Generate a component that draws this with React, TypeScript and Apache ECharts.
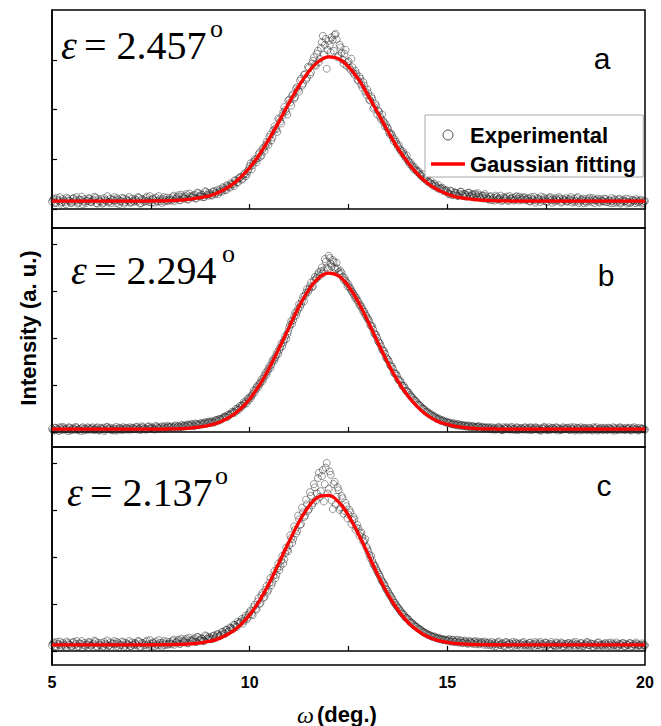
import React, { useEffect, useRef } from 'react';
import * as echarts from 'echarts';

// ---------- data ----------
const OMEGA_MIN = 5;
const OMEGA_MAX = 20;
const EXP_STEP = 0.05;
const EXP_OFFSET_2 = 0.025;
const FIT_STEP = 0.25;
const X_LABELS = [5, 10, 15, 20];
const EPSILON = ['2.457', '2.294', '2.137'];
const LETTERS = ['a', 'b', 'c'];
const Y_MIN = [-0.38, -0.32, -0.3];
const Y_MAX = [4.0, 4.34, 4.34];
const Y_TICKS = [[0, 1, 2, 3], [0, 1, 2, 3, 4], [0, 1, 2, 3, 4]];

// experimental points, omega = 5.00, 5.05, ... 20.00
const EXP_A = [
  0.15,0.21,0.12,0.18,0.24,0.14,0.17,0.10,0.20,0.16,0.13,0.22,0.18,0.11,0.19,0.25,0.15,0.12,0.17,0.21,
  0.14,0.19,0.23,0.11,0.16,0.20,0.13,0.18,0.26,0.15,0.12,0.19,0.17,0.22,0.10,0.16,0.21,0.14,0.18,0.24,
  0.13,0.17,0.20,0.15,0.23,0.12,0.19,0.16,0.25,0.14,0.18,0.21,0.13,0.17,0.26,0.16,0.20,0.15,0.23,0.18,
  0.19,0.24,0.16,0.22,0.28,0.18,0.25,0.21,0.30,0.19,0.26,0.23,0.29,0.21,0.32,0.25,0.28,0.24,0.34,0.27,
  0.31,0.27,0.36,0.33,0.30,0.40,0.35,0.42,0.38,0.47,0.43,0.50,0.46,0.57,0.53,0.63,0.59,0.69,0.66,0.76,
  0.86,0.80,0.95,0.99,1.02,1.14,1.08,1.23,1.27,1.33,1.45,1.38,1.58,1.62,1.55,1.80,1.72,1.95,1.99,1.90,
  2.20,2.08,2.31,2.25,2.45,2.36,2.62,2.52,2.71,2.64,2.84,2.75,2.98,2.90,3.12,2.95,3.24,3.48,3.30,2.82,
  3.38,3.15,3.40,3.50,3.41,3.08,3.25,3.00,3.12,2.88,2.97,2.80,2.85,2.70,2.72,2.58,2.62,2.44,2.48,2.30,
  2.33,2.18,2.22,2.05,2.08,1.98,1.86,1.90,1.74,1.70,1.62,1.50,1.49,1.36,1.35,1.25,1.20,1.13,1.10,1.02,
  0.98,0.90,0.88,0.80,0.79,0.74,0.70,0.66,0.62,0.60,0.55,0.53,0.50,0.46,0.47,0.42,0.40,0.41,0.36,0.37,
  0.34,0.30,0.36,0.29,0.33,0.27,0.31,0.35,0.26,0.30,0.28,0.33,0.25,0.29,0.31,0.24,0.28,0.22,0.27,0.30,
  0.23,0.19,0.26,0.21,0.17,0.24,0.20,0.27,0.18,0.22,0.25,0.16,0.21,0.23,0.19,0.26,0.17,0.22,0.20,0.24,
  0.18,0.22,0.15,0.20,0.25,0.17,0.21,0.14,0.19,0.23,0.16,0.20,0.24,0.13,0.18,0.22,0.17,0.21,0.15,0.19,
  0.22,0.16,0.19,0.13,0.21,0.17,0.24,0.15,0.18,0.12,0.20,0.16,0.23,0.14,0.19,0.17,0.21,0.13,0.18,0.15,
  0.20,0.14,0.17,0.22,0.12,0.18,0.15,0.21,0.13,0.19,0.16,0.11,0.20,0.14,0.18,0.12,0.17,0.15,0.19,0.13,
  0.16,
];
// experimental points, omega = 5.025, 5.075, ... 19.975
const EXP_A2 = [
  0.19,0.13,0.22,0.16,0.11,0.20,0.14,0.23,0.17,0.12,0.21,0.15,0.24,0.13,0.18,0.10,0.20,0.16,0.22,0.14,
  0.17,0.25,0.12,0.20,0.15,0.11,0.22,0.16,0.13,0.21,0.18,0.24,0.12,0.19,0.15,0.23,0.11,0.20,0.16,0.13,
  0.21,0.15,0.18,0.24,0.11,0.20,0.14,0.22,0.17,0.26,0.13,0.19,0.23,0.15,0.20,0.12,0.24,0.18,0.16,0.22,
  0.17,0.27,0.20,0.25,0.18,0.29,0.22,0.26,0.20,0.31,0.24,0.27,0.22,0.33,0.26,0.30,0.24,0.36,0.29,0.33,
  0.28,0.35,0.30,0.38,0.34,0.37,0.44,0.39,0.48,0.45,0.52,0.49,0.58,0.54,0.62,0.65,0.61,0.72,0.70,0.80,
  0.92,0.88,1.00,0.94,1.10,1.05,1.20,1.17,1.35,1.29,1.50,1.44,1.66,1.60,1.82,1.76,1.88,2.05,1.96,2.18,
  2.14,2.28,2.22,2.42,2.40,2.58,2.48,2.70,2.60,2.86,2.70,2.92,3.05,2.88,3.18,3.02,3.35,3.10,3.42,3.20,
  3.30,3.45,3.18,3.52,3.05,3.30,3.14,2.92,3.20,2.95,2.84,3.02,2.74,2.78,2.60,2.66,2.50,2.55,2.36,2.40,
  2.20,2.26,2.02,2.12,1.90,1.95,1.80,1.78,1.66,1.64,1.54,1.52,1.42,1.40,1.30,1.28,1.18,1.16,1.06,1.08,
  0.95,0.93,0.85,0.84,0.77,0.76,0.68,0.70,0.61,0.63,0.56,0.57,0.50,0.51,0.45,0.48,0.42,0.43,0.39,0.38,
  0.31,0.37,0.28,0.34,0.32,0.26,0.35,0.29,0.31,0.25,0.33,0.27,0.30,0.23,0.28,0.32,0.24,0.27,0.21,0.26,
  0.20,0.25,0.18,0.23,0.27,0.19,0.22,0.16,0.24,0.21,0.18,0.26,0.20,0.17,0.24,0.21,0.25,0.18,0.23,0.19,
  0.21,0.16,0.24,0.18,0.13,0.22,0.19,0.25,0.16,0.20,0.14,0.23,0.18,0.21,0.15,0.19,0.24,0.13,0.20,0.17,
  0.15,0.20,0.24,0.17,0.14,0.22,0.12,0.19,0.21,0.16,0.13,0.20,0.17,0.22,0.12,0.18,0.15,0.20,0.16,0.21,
  0.14,0.18,0.12,0.16,0.20,0.13,0.19,0.11,0.17,0.15,0.21,0.14,0.12,0.18,0.16,0.20,0.13,0.17,0.11,0.16,
];

const EXP_B = [
  0.07,0.03,0.09,0.05,0.10,0.04,0.08,0.06,0.02,0.09,0.05,0.07,0.11,0.04,0.06,0.08,0.03,0.07,0.10,0.05,
  0.08,0.04,0.06,0.10,0.03,0.07,0.09,0.05,0.11,0.06,0.04,0.08,0.07,0.03,0.09,0.06,0.10,0.05,0.08,0.07,
  0.05,0.09,0.06,0.11,0.07,0.04,0.10,0.08,0.06,0.12,0.07,0.09,0.05,0.11,0.08,0.10,0.07,0.12,0.09,0.11,
  0.10,0.08,0.12,0.09,0.13,0.11,0.10,0.14,0.12,0.15,0.13,0.16,0.12,0.17,0.15,0.18,0.16,0.19,0.17,0.21,
  0.19,0.23,0.20,0.26,0.23,0.28,0.28,0.32,0.32,0.37,0.37,0.43,0.43,0.49,0.50,0.55,0.57,0.63,0.65,0.71,
  0.74,0.77,0.88,0.90,0.99,1.02,1.12,1.14,1.26,1.29,1.40,1.43,1.55,1.58,1.70,1.75,1.88,1.90,2.04,2.08,
  2.22,2.36,2.38,2.54,2.56,2.72,2.72,2.88,2.90,3.04,3.03,3.18,3.10,3.30,3.28,3.40,3.42,3.38,3.68,3.50,
  3.75,3.58,3.66,3.50,3.60,3.40,3.42,3.30,3.28,3.18,3.14,3.05,2.98,2.90,2.86,2.77,2.70,2.62,2.56,2.47,
  2.40,2.28,2.25,2.10,2.06,1.93,1.88,1.75,1.72,1.58,1.54,1.42,1.39,1.26,1.24,1.12,1.10,0.99,0.98,0.88,
  0.86,0.79,0.75,0.69,0.66,0.59,0.57,0.51,0.49,0.43,0.42,0.37,0.36,0.32,0.31,0.27,0.27,0.23,0.24,0.20,
  0.20,0.19,0.17,0.18,0.15,0.16,0.14,0.15,0.12,0.14,0.11,0.13,0.10,0.12,0.09,0.11,0.12,0.08,0.10,0.09,
  0.07,0.10,0.08,0.05,0.09,0.06,0.11,0.07,0.04,0.08,0.10,0.06,0.09,0.05,0.07,0.10,0.04,0.08,0.06,0.09,
  0.05,0.08,0.10,0.04,0.07,0.09,0.06,0.03,0.08,0.11,0.05,0.07,0.04,0.09,0.06,0.10,0.03,0.07,0.05,0.08,
  0.06,0.09,0.04,0.07,0.10,0.05,0.08,0.03,0.06,0.09,0.07,0.04,0.08,0.05,0.10,0.06,0.03,0.07,0.09,0.05,
  0.07,0.04,0.08,0.06,0.10,0.03,0.07,0.09,0.05,0.08,0.04,0.06,0.09,0.03,0.07,0.05,0.08,0.04,0.06,0.07,
  0.05,
];
const EXP_B2 = [
  0.04,0.09,0.06,0.02,0.08,0.11,0.05,0.07,0.10,0.03,0.08,0.05,0.09,0.06,0.02,0.10,0.07,0.04,0.08,0.06,
  0.10,0.05,0.08,0.04,0.09,0.06,0.02,0.10,0.07,0.09,0.05,0.03,0.11,0.06,0.08,0.04,0.07,0.09,0.05,0.10,
  0.08,0.06,0.10,0.05,0.09,0.12,0.07,0.05,0.11,0.08,0.10,0.06,0.13,0.09,0.07,0.12,0.10,0.08,0.13,0.10,
  0.12,0.10,0.14,0.11,0.10,0.15,0.13,0.12,0.16,0.14,0.17,0.13,0.18,0.16,0.15,0.19,0.17,0.21,0.19,0.22,
  0.21,0.20,0.24,0.25,0.27,0.26,0.30,0.33,0.31,0.35,0.39,0.40,0.41,0.46,0.47,0.52,0.56,0.60,0.61,0.68,
  0.72,0.81,0.84,0.95,0.96,1.06,1.08,1.20,1.22,1.34,1.36,1.50,1.52,1.64,1.66,1.80,1.82,1.96,1.98,2.14,
  2.28,2.30,2.46,2.48,2.62,2.66,2.80,2.78,2.96,2.98,3.10,3.08,3.22,3.25,3.35,3.32,3.50,3.44,3.62,3.46,
  3.70,3.52,3.62,3.46,3.48,3.36,3.38,3.24,3.22,3.10,3.08,3.00,2.94,2.84,2.80,2.70,2.66,2.56,2.50,2.42,
  2.36,2.25,2.18,2.08,2.00,1.90,1.82,1.73,1.66,1.56,1.50,1.40,1.34,1.24,1.20,1.10,1.06,0.97,0.94,0.86,
  0.83,0.76,0.72,0.67,0.63,0.58,0.55,0.50,0.47,0.44,0.40,0.39,0.34,0.34,0.29,0.29,0.25,0.25,0.22,0.22,
  0.19,0.20,0.16,0.18,0.14,0.17,0.13,0.15,0.13,0.12,0.14,0.10,0.13,0.11,0.10,0.12,0.09,0.11,0.08,0.10,
  0.09,0.06,0.10,0.07,0.05,0.09,0.08,0.04,0.10,0.06,0.08,0.05,0.11,0.07,0.04,0.09,0.06,0.08,0.05,0.10,
  0.07,0.04,0.09,0.06,0.10,0.05,0.08,0.03,0.07,0.09,0.04,0.10,0.06,0.08,0.05,0.09,0.07,0.04,0.10,0.06,
  0.08,0.05,0.10,0.06,0.03,0.09,0.07,0.10,0.04,0.08,0.05,0.09,0.06,0.03,0.08,0.10,0.05,0.07,0.04,0.09,
  0.05,0.09,0.06,0.03,0.08,0.07,0.04,0.10,0.06,0.05,0.09,0.07,0.04,0.08,0.10,0.06,0.03,0.09,0.07,0.05,
];

const EXP_C = [
  0.12,0.18,0.09,0.15,0.20,0.11,0.14,0.07,0.17,0.13,0.10,0.19,0.15,0.08,0.16,0.21,0.12,0.10,0.14,0.18,
  0.11,0.16,0.20,0.09,0.13,0.17,0.10,0.15,0.22,0.12,0.09,0.16,0.14,0.19,0.08,0.13,0.18,0.11,0.15,0.21,
  0.10,0.14,0.17,0.12,0.20,0.09,0.16,0.13,0.22,0.11,0.15,0.18,0.10,0.14,0.23,0.13,0.17,0.12,0.20,0.15,
  0.16,0.21,0.13,0.19,0.24,0.15,0.22,0.18,0.26,0.16,0.23,0.20,0.27,0.19,0.29,0.22,0.26,0.21,0.31,0.25,
  0.28,0.25,0.33,0.30,0.36,0.32,0.40,0.37,0.45,0.41,0.50,0.47,0.56,0.52,0.62,0.59,0.68,0.64,0.75,0.71,
  0.82,0.78,0.93,0.90,1.05,1.00,1.18,1.13,1.30,1.26,1.45,1.40,1.60,1.55,1.75,1.72,1.92,1.86,2.08,2.15,
  2.25,2.40,2.38,2.58,2.55,2.80,2.70,2.95,2.88,3.12,3.02,3.30,3.15,3.48,3.35,3.79,3.40,3.85,3.55,4.00,
  3.45,3.75,3.02,3.60,3.28,3.42,3.05,3.25,2.98,3.08,2.90,2.95,2.78,2.80,2.62,2.60,2.50,2.42,2.34,2.22,
  2.12,1.98,1.92,1.82,1.74,1.66,1.58,1.48,1.42,1.32,1.26,1.18,1.12,1.03,0.98,0.92,0.86,0.80,0.77,0.70,
  0.68,0.62,0.60,0.55,0.52,0.48,0.46,0.42,0.40,0.37,0.35,0.33,0.31,0.30,0.28,0.27,0.25,0.26,0.23,0.24,
  0.22,0.25,0.20,0.23,0.19,0.24,0.18,0.21,0.17,0.22,0.16,0.20,0.18,0.15,0.21,0.17,0.14,0.19,0.16,0.20,
  0.13,0.18,0.15,0.11,0.17,0.14,0.20,0.12,0.16,0.10,0.18,0.13,0.15,0.19,0.11,0.16,0.14,0.09,0.17,0.13,
  0.15,0.11,0.18,0.13,0.09,0.16,0.12,0.19,0.14,0.10,0.17,0.13,0.08,0.15,0.12,0.18,0.11,0.14,0.16,0.10,
  0.14,0.17,0.10,0.15,0.12,0.19,0.13,0.09,0.16,0.11,0.14,0.18,0.12,0.15,0.08,0.13,0.17,0.11,0.14,0.12,
  0.16,0.10,0.13,0.18,0.11,0.14,0.09,0.15,0.12,0.17,0.10,0.13,0.16,0.08,0.14,0.11,0.15,0.12,0.09,0.13,
  0.12,
];
const EXP_C2 = [
  0.16,0.10,0.19,0.13,0.08,0.17,0.11,0.20,0.14,0.09,0.18,0.12,0.21,0.10,0.15,0.07,0.17,0.13,0.19,0.11,
  0.14,0.22,0.09,0.17,0.12,0.08,0.19,0.13,0.10,0.18,0.15,0.21,0.09,0.16,0.12,0.20,0.08,0.17,0.13,0.10,
  0.18,0.12,0.15,0.21,0.08,0.17,0.11,0.19,0.14,0.23,0.10,0.16,0.20,0.12,0.17,0.09,0.21,0.15,0.13,0.19,
  0.14,0.24,0.17,0.22,0.15,0.26,0.19,0.23,0.17,0.28,0.21,0.24,0.19,0.30,0.23,0.27,0.21,0.33,0.26,0.30,
  0.25,0.32,0.27,0.35,0.31,0.34,0.41,0.36,0.45,0.42,0.49,0.46,0.55,0.51,0.59,0.62,0.58,0.70,0.67,0.78,
  0.86,0.76,0.98,0.88,1.12,1.02,1.24,1.15,1.38,1.30,1.55,1.46,1.70,1.62,1.86,1.80,2.02,1.95,2.20,2.12,
  2.46,2.30,2.65,2.50,2.88,2.68,3.05,2.85,3.22,2.98,3.38,3.10,3.55,3.20,3.68,3.28,3.72,3.18,3.90,3.35,
  3.82,3.20,3.55,3.12,3.48,3.00,3.30,2.92,3.15,2.82,3.00,2.70,2.85,2.58,2.68,2.45,2.52,2.32,2.38,2.18,
  2.05,2.02,1.86,1.80,1.70,1.62,1.52,1.46,1.38,1.30,1.22,1.16,1.08,1.02,0.95,0.90,0.84,0.79,0.73,0.70,
  0.66,0.60,0.58,0.53,0.51,0.47,0.45,0.41,0.39,0.37,0.34,0.33,0.30,0.31,0.27,0.28,0.25,0.24,0.24,0.22,
  0.23,0.20,0.24,0.19,0.22,0.18,0.23,0.17,0.20,0.19,0.15,0.21,0.17,0.19,0.14,0.20,0.16,0.18,0.13,0.17,
  0.16,0.12,0.19,0.14,0.10,0.18,0.13,0.16,0.11,0.19,0.14,0.17,0.10,0.15,0.18,0.12,0.16,0.13,0.19,0.11,
  0.13,0.17,0.10,0.15,0.19,0.12,0.16,0.09,0.14,0.18,0.11,0.15,0.19,0.12,0.10,0.16,0.13,0.18,0.09,0.15,
  0.11,0.16,0.13,0.18,0.09,0.15,0.12,0.17,0.10,0.14,0.19,0.12,0.16,0.09,0.15,0.11,0.18,0.13,0.10,0.16,
  0.13,0.17,0.10,0.15,0.12,0.18,0.11,0.14,0.16,0.09,0.15,0.12,0.17,0.10,0.14,0.18,0.11,0.13,0.16,0.12,
];

// Gaussian fit, omega = 5.00, 5.25, ... 20.00
const FIT_A = [
  0.16,0.16,0.16,0.16,0.16,0.16,0.16,0.16,0.16,0.16,
  0.162,0.165,0.17,0.18,0.2,0.23,0.27,0.35,0.46,0.62,0.83,1.1,1.42,1.77,2.14,2.48,2.77,2.97,3.06,3.02,
  2.86,2.61,2.28,1.92,1.56,1.22,0.94,0.7,0.52,0.39,0.3,0.24,0.21,0.185,0.173,0.166,0.163,
  0.16,0.16,0.16,0.16,0.16,0.16,0.16,0.16,0.16,0.16,0.16,0.16,0.16,0.16,
];
const FIT_B = [
  0.06,0.06,0.06,0.06,0.06,0.06,0.06,0.06,0.06,0.06,
  0.061,0.062,0.065,0.071,0.083,0.106,0.146,0.213,0.319,0.478,0.703,1.0,1.37,1.79,2.23,2.67,3.03,3.28,3.38,3.32,
  3.1,2.76,2.34,1.89,1.46,1.08,0.77,0.53,0.35,0.23,0.16,0.113,0.087,0.073,0.066,0.063,0.061,
  0.06,0.06,0.06,0.06,0.06,0.06,0.06,0.06,0.06,0.06,0.06,0.06,0.06,0.06,
];
const FIT_C = [
  0.13,0.13,0.13,0.13,0.13,0.13,0.13,0.13,0.13,0.13,
  0.131,0.132,0.134,0.139,0.149,0.17,0.207,0.272,0.377,0.538,0.768,1.07,1.45,1.89,2.33,2.75,3.08,3.28,3.31,3.17,
  2.88,2.49,2.05,1.6,1.2,0.87,0.61,0.43,0.3,0.227,0.181,0.155,0.142,0.135,0.132,0.131,0.13,
  0.13,0.13,0.13,0.13,0.13,0.13,0.13,0.13,0.13,0.13,0.13,0.13,0.13,0.13,
];

const EXPS = [EXP_A, EXP_B, EXP_C];
const EXPS2 = [EXP_A2, EXP_B2, EXP_C2];
const FITS = [FIT_A, FIT_B, FIT_C];

// ---------- layout ----------
const SANS = '"Liberation Sans", Arial, Helvetica, sans-serif';
const SERIF = '"Liberation Serif", "Times New Roman", Times, serif';
const GRIDS = [
  { top: 10, height: 218 },
  { top: 228, height: 219 },
  { top: 447, height: 218 },
];
const EPS_POS = [
  { eps: 61, eq: 84, sup: 210, y: 45 },
  { eps: 71, eq: 94, sup: 222, y: 270 },
  { eps: 67, eq: 90, sup: 215, y: 492 },
];
const LETTER_POS = [
  { x: 602, y: 58 },
  { x: 606, y: 275 },
  { x: 604, y: 485 },
];

function buildOption() {
  const toPairs = (arr: number[], step: number, offset: number) =>
    arr.map((v, i) => [+(OMEGA_MIN + offset + i * step).toFixed(3), v]);

  const grid = GRIDS.map((g) => ({
    left: 52,
    width: 593,
    top: g.top,
    height: g.height,
    show: true,
    borderColor: '#000',
    borderWidth: 1.5,
    backgroundColor: 'transparent',
  }));

  const xAxis = GRIDS.map((_, i) => ({
    type: 'value',
    gridIndex: i,
    min: OMEGA_MIN,
    max: OMEGA_MAX,
    interval: 2.5,
    axisLine: { show: true, lineStyle: { color: '#000', width: 1.5 } },
    axisTick: { show: true, inside: true, length: 5, lineStyle: { color: '#000', width: 1.2 } },
    splitLine: { show: false },
    axisLabel: {
      show: i === 2,
      margin: 9,
      color: '#000',
      fontFamily: SANS,
      fontWeight: 'bold',
      fontSize: 16,
      formatter: (v: number) => (X_LABELS.indexOf(v) >= 0 ? String(v) : ''),
    },
  }));

  const yAxis = GRIDS.map((_, i) => ({
    type: 'value',
    gridIndex: i,
    min: Y_MIN[i],
    max: Y_MAX[i],
    axisLine: { show: true, lineStyle: { color: '#000', width: 1.5 } },
    axisTick: {
      show: true,
      inside: true,
      length: 5,
      customValues: Y_TICKS[i],
      lineStyle: { color: '#000', width: 1.2 },
    },
    axisLabel: { show: false },
    splitLine: { show: false },
  }));

  const series: any[] = [];
  EXPS.forEach((arr, i) => {
    series.push({
      name: 'Experimental',
      type: 'scatter',
      xAxisIndex: i,
      yAxisIndex: i,
      data: toPairs(arr, EXP_STEP, 0).concat(toPairs(EXPS2[i], EXP_STEP, EXP_OFFSET_2)),
      symbol: 'circle',
      symbolSize: 7,
      silent: true,
      itemStyle: { color: 'rgba(0,0,0,0)', borderColor: 'rgba(30,30,30,0.72)', borderWidth: 0.8 },
      z: 2,
    });
  });
  FITS.forEach((arr, i) => {
    series.push({
      name: 'Gaussian fitting',
      type: 'line',
      xAxisIndex: i,
      yAxisIndex: i,
      data: toPairs(arr, FIT_STEP, 0),
      symbol: 'none',
      showSymbol: false,
      smooth: 0.4,
      silent: true,
      itemStyle: { color: '#ff0000' },
      lineStyle: { color: '#ff0000', width: 3.3 },
      z: 3,
    });
  });

  const txt = (x: number, y: number, text: string, font: string, align = 'left', extra: any = {}) => ({
    type: 'text',
    x,
    y,
    ...extra,
    style: {
      text,
      font,
      fill: '#000',
      textAlign: align,
      textVerticalAlign: 'middle',
      align,
      verticalAlign: 'middle',
    },
  });

  const graphics: any[] = [];
  EPSILON.forEach((val, i) => {
    const p = EPS_POS[i];
    graphics.push(txt(p.eps, p.y, 'ε', `italic 40px ${SERIF}`));
    graphics.push(txt(p.eq, p.y, `= ${val}`, `40px ${SERIF}`));
    graphics.push(txt(p.sup, p.y - 16.5, 'o', `26px ${SERIF}`));
  });
  LETTERS.forEach((l, i) => {
    graphics.push(txt(LETTER_POS[i].x, LETTER_POS[i].y, l, `30px ${SANS}`, 'center'));
  });
  graphics.push(txt(28, 328, 'Intensity (a. u.)', `bold 22px ${SANS}`, 'center', { rotation: Math.PI / 2 }));
  graphics.push(txt(297, 714.5, 'ω', `italic 24px ${SERIF}`));
  graphics.push(txt(317, 714.5, '(deg.)', `bold 22px ${SANS}`));

  return {
    animation: false,
    backgroundColor: '#fff',
    grid,
    xAxis,
    yAxis,
    series,
    legend: {
      left: 425,
      top: 115,
      orient: 'vertical',
      itemWidth: 34,
      itemHeight: 10,
      itemGap: 7,
      padding: [9, 7, 2, 6],
      borderColor: '#a8a8a8',
      borderWidth: 1,
      backgroundColor: '#fff',
      selectedMode: false,
      symbolKeepAspect: true,
      textStyle: { fontFamily: SANS, fontWeight: 'bold', fontSize: 22, color: '#000', lineHeight: 20 },
      data: [
        {
          name: 'Experimental',
          icon: 'circle',
          itemStyle: { color: 'rgba(0,0,0,0)', borderColor: '#222', borderWidth: 1 },
        },
        {
          name: 'Gaussian fitting',
          icon: 'path://M0,0L34,0L34,3.3L0,3.3Z',
          itemStyle: { color: '#ff0000' },
        },
      ],
    },
    graphic: { elements: graphics },
  };
}

export default function App() {
  const ref = useRef<HTMLDivElement>(null);
  useEffect(() => {
    if (!ref.current) return;
    const chart = echarts.init(ref.current, null, { renderer: 'svg' });
    chart.setOption(buildOption() as any);
    return () => {
      chart.dispose();
    };
  }, []);
  return (
    <div
      ref={ref}
      style={{ position: 'absolute', left: 0, top: 0, width: 661, height: 726, background: '#fff' }}
    />
  );
}
